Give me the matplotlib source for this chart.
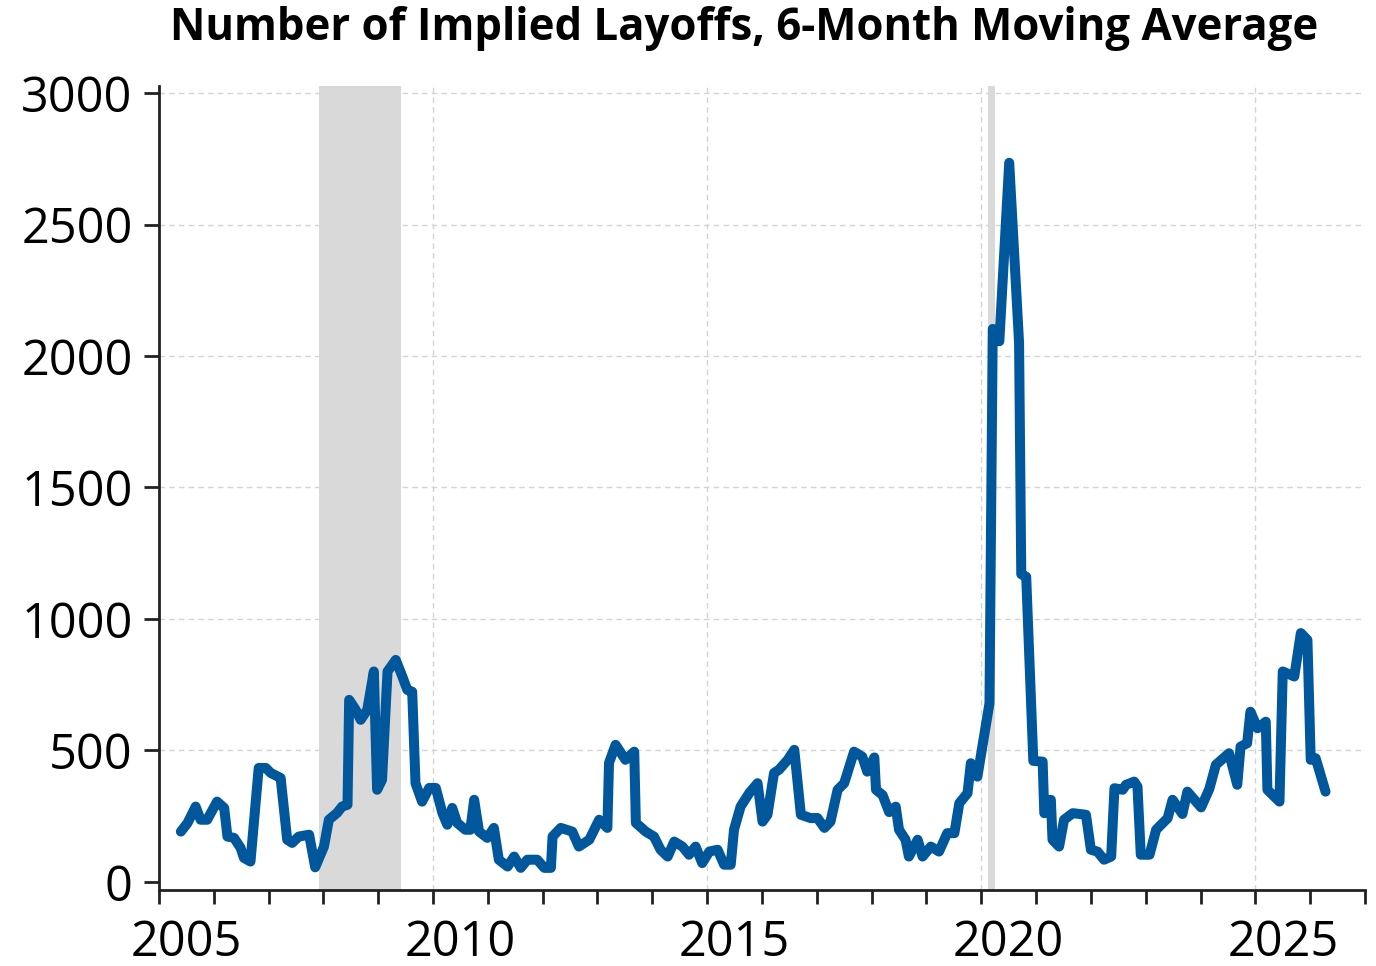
import matplotlib
matplotlib.use("Agg")
import matplotlib.pyplot as plt
from matplotlib.ticker import MultipleLocator

plt.rcParams['font.family'] = ['Open Sans', 'DejaVu Sans']

# decimal year of each point
dates = [2005.40, 2005.52, 2005.67, 2005.76, 2005.88, 2006.06, 2006.19, 2006.25, 2006.37, 2006.49,
         2006.55, 2006.67, 2006.82, 2006.95, 2007.04, 2007.22, 2007.34, 2007.43, 2007.55, 2007.74,
         2007.85, 2008.01, 2008.10, 2008.25, 2008.34, 2008.44, 2008.47, 2008.59, 2008.68, 2008.80,
         2008.92, 2008.98, 2009.07, 2009.17, 2009.32, 2009.44, 2009.53, 2009.62, 2009.68, 2009.80,
         2009.93, 2010.05, 2010.17, 2010.26, 2010.35, 2010.44, 2010.59, 2010.68, 2010.75, 2010.84,
         2010.99, 2011.11, 2011.20, 2011.36, 2011.48, 2011.60, 2011.72, 2011.90, 2012.03, 2012.15,
         2012.18, 2012.33, 2012.54, 2012.66, 2012.85, 2013.03, 2013.18, 2013.21, 2013.33, 2013.51,
         2013.67, 2013.70, 2013.88, 2014.03, 2014.15, 2014.28, 2014.40, 2014.55, 2014.67, 2014.79,
         2014.91, 2015.04, 2015.19, 2015.31, 2015.43, 2015.49, 2015.61, 2015.77, 2015.92, 2016.01,
         2016.10, 2016.22, 2016.31, 2016.47, 2016.59, 2016.71, 2016.89, 2017.01, 2017.14, 2017.25,
         2017.38, 2017.50, 2017.68, 2017.83, 2017.92, 2018.05, 2018.08, 2018.20, 2018.32, 2018.44,
         2018.50, 2018.62, 2018.68, 2018.84, 2018.93, 2019.08, 2019.23, 2019.38, 2019.51, 2019.60,
         2019.75, 2019.81, 2019.93, 2020.02, 2020.15, 2020.21, 2020.33, 2020.51, 2020.69, 2020.73,
         2020.82, 2020.95, 2021.12, 2021.15, 2021.27, 2021.30, 2021.42, 2021.51, 2021.67, 2021.91,
         2022.00, 2022.12, 2022.24, 2022.37, 2022.43, 2022.58, 2022.64, 2022.79, 2022.85, 2022.91,
         2023.07, 2023.19, 2023.31, 2023.40, 2023.49, 2023.67, 2023.76, 2023.89, 2024.01, 2024.16,
         2024.28, 2024.52, 2024.67, 2024.73, 2024.85, 2024.91, 2025.04, 2025.19, 2025.22, 2025.44,
         2025.50, 2025.71, 2025.83, 2025.95, 2026.01, 2026.10, 2026.28]

layoffs = [191, 223, 286, 236, 236, 305, 281, 172, 167, 129,
           91, 77, 433, 433, 414, 395, 160, 148, 172, 179,
           55, 134, 236, 262, 286, 293, 692, 654, 616, 654,
           800, 350, 388, 800, 844, 781, 730, 723, 375, 305,
           357, 357, 262, 217, 281, 224, 198, 198, 312, 191,
           167, 205, 84, 58, 96, 53, 84, 84, 53, 53,
           172, 205, 191, 134, 160, 236, 205, 452, 521, 464,
           495, 224, 191, 172, 122, 96, 153, 134, 103, 134,
           71, 115, 122, 65, 65, 198, 286, 338, 375, 229,
           255, 414, 426, 464, 502, 255, 242, 243, 205, 229,
           350, 375, 495, 476, 419, 473, 350, 330, 265, 286,
           198, 160, 96, 160, 96, 134, 115, 185, 185, 299,
           337, 451, 400, 514, 679, 2103, 2056, 2735, 2050, 1170,
           1160, 460, 457, 261, 312, 160, 134, 236, 261, 255,
           122, 115, 84, 96, 356, 350, 369, 381, 362, 103,
           103, 198, 223, 242, 312, 258, 343, 312, 283, 353,
           445, 489, 369, 514, 527, 647, 584, 609, 350, 305,
           800, 781, 946, 920, 464, 470, 343]

recessions = [(2007.92, 2009.42), (2020.12, 2020.26)]

year_labels = ['2005', '2010', '2015', '2020', '2025']

fig = plt.figure(figsize=(13.76, 9.66), dpi=100)
ax = fig.add_axes([0.1155, 0.079, 0.8765, 0.832])

for start, end in recessions:
    ax.axvspan(start, end, color='#d9d9d9', lw=0, zorder=1)

ax.plot(dates, layoffs, color='#00579c', lw=7.2, solid_joinstyle='round',
        solid_capstyle='round', zorder=3)

ax.set_xlim(2005, 2027)
ax.set_ylim(-30, 3027)

# year ticks, labels sit in the middle of the year
ax.xaxis.set_major_locator(MultipleLocator(1))
ax.set_xticklabels([])
ax.set_xticks([int(y) + 0.5 for y in year_labels], minor=True)
ax.set_xticklabels(year_labels, minor=True)
ax.tick_params(axis='x', which='major', length=10, width=2, color='#222222')
ax.tick_params(axis='x', which='minor', length=0, pad=21, labelsize=35)
ax.set_yticks(range(0, 3001, 500))
ax.tick_params(axis='y', length=11, width=2, color='#222222', pad=8, labelsize=35)

for y in range(500, 3001, 500):
    ax.axhline(y, color='#d4d4d4', lw=1, ls=(0, (4, 3)), zorder=0)
for y in range(2010, 2026, 5):
    ax.axvline(y, color='#d4d4d4', lw=1, ls=(0, (4, 3)), zorder=0)

for side in ['top', 'right']:
    ax.spines[side].set_visible(False)
for side in ['left', 'bottom']:
    ax.spines[side].set_linewidth(2)
    ax.spines[side].set_color('#222222')

fig.text(0.5405, 0.971, "Number of Implied Layoffs, 6-Month Moving Average",
         ha='center', va='center', fontsize=31.5, fontweight='bold')

fig.savefig("out.png", dpi=100)
